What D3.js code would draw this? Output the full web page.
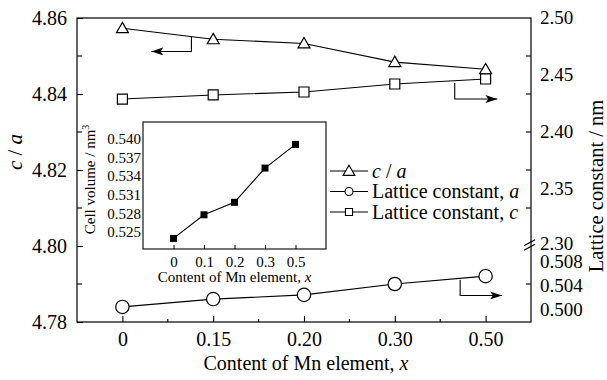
<!DOCTYPE html>
<html>
<head>
<meta charset="utf-8">
<script src="https://cdn.jsdelivr.net/npm/d3@7"></script>
<style>
  html, body { margin: 0; padding: 0; background: #fff; }
</style>
</head>
<body>
<div id="chart"></div>
<script>
// values
const xLabels = ["0", "0.15", "0.20", "0.30", "0.50"];
const ratioCA = [4.8573, 4.8544, 4.8533, 4.8484, 4.8465];
const latticeA = [0.5002, 0.5015, 0.5022, 0.5040, 0.5053];
const latticeC = [2.4289, 2.4325, 2.4351, 2.4421, 2.4465];

const insetLabels = ["0", "0.1", "0.2", "0.3", "0.5"];
const cellVolume = [0.5240, 0.5278, 0.5298, 0.5353, 0.5391];

const leftTicks = [4.78, 4.80, 4.82, 4.84, 4.86];
const leftMinor = [4.79, 4.81, 4.83, 4.85];
const upperRightTicks = [2.30, 2.35, 2.40, 2.45, 2.50];
const lowerRightTicks = [0.500, 0.504, 0.508];
const insetYTicks = [0.525, 0.528, 0.531, 0.534, 0.537, 0.540];

const FONT = '"Liberation Serif", "Times New Roman", Times, "DejaVu Serif", serif';
const W = 607, H = 380;
const plot = { left: 77, right: 531, top: 18, bottom: 322 };
const inset = { left: 143, right: 326, top: 122, bottom: 249 };

const svg = d3.select("#chart").append("svg")
  .attr("width", W).attr("height", H)
  .attr("viewBox", [0, 0, W, H])
  .attr("font-family", FONT);

// scales
const x = d3.scalePoint().domain(xLabels).range([plot.left, plot.right]).padding(0.5);
const yLeft = d3.scaleLinear().domain([4.78, 4.86]).range([plot.bottom, plot.top]);
const yUpper = d3.scaleLinear().domain([2.30, 2.50]).range([246, plot.top]);
const yLower = d3.scaleLinear().domain([0.4977, 0.5103]).range([plot.bottom, 246]);

const xi = d3.scalePoint().domain(insetLabels).range([inset.left, inset.right]).padding(1);
const yi = d3.scaleLinear().domain([0.5223, 0.5427]).range([inset.bottom, inset.top]);

// frame
svg.append("rect")
  .attr("x", plot.left).attr("y", plot.top)
  .attr("width", plot.right - plot.left).attr("height", plot.bottom - plot.top)
  .attr("fill", "none").attr("stroke", "#000").attr("stroke-width", 1.2);

// left axis, ticks pointing in
const gl = svg.append("g").attr("transform", `translate(${plot.left},0)`)
  .call(d3.axisLeft(yLeft).tickValues(leftTicks).tickFormat(d3.format(".2f")).tickSizeInner(-6).tickSizeOuter(0).tickPadding(10));
gl.select(".domain").remove();
gl.selectAll("text").style("font-size", "20px");
gl.selectAll("line").attr("stroke-width", 1.1);
svg.append("g").selectAll("line").data(leftMinor).join("line")
  .attr("x1", plot.left).attr("x2", plot.left + 5)
  .attr("y1", d => yLeft(d)).attr("y2", d => yLeft(d))
  .attr("stroke", "#000").attr("stroke-width", 1.1);

// right axis: mirrored tick marks, labels from the two lattice scales
svg.append("g").selectAll("line")
  .data([4.79, 4.81, 4.82, 4.83, 4.84, 4.85]).join("line")
  .attr("x1", plot.right).attr("x2", plot.right - 5)
  .attr("y1", d => yLeft(d)).attr("y2", d => yLeft(d))
  .attr("stroke", "#000").attr("stroke-width", 1.1);

svg.append("g").selectAll("text").data(upperRightTicks).join("text")
  .attr("x", plot.right + 9).attr("y", d => yUpper(d)).attr("dy", d => d === 2.30 ? "0.22em" : "0.34em")
  .style("font-size", "19px").text(d => d3.format(".2f")(d));
svg.append("g").selectAll("text").data(lowerRightTicks).join("text")
  .attr("x", plot.right + 9).attr("y", d => yLower(d)).attr("dy", "0.44em")
  .style("font-size", "19px").text(d => d3.format(".3f")(d));

// axis break marks
const brk = svg.append("g").attr("transform", `translate(${plot.right},245)`);
[-2.2, 2.2].forEach(o => {
  brk.append("line").attr("x1", -7).attr("y1", o + 3).attr("x2", 4).attr("y2", o - 3)
    .attr("stroke", "#000").attr("stroke-width", 1.1);
});

// bottom axis, ticks pointing up
const gb = svg.append("g").attr("transform", `translate(0,${plot.bottom})`)
  .call(d3.axisBottom(x).tickSizeInner(-6).tickSizeOuter(0).tickPadding(10));
gb.select(".domain").remove();
gb.selectAll("text").style("font-size", "20px");
gb.selectAll("line").attr("stroke-width", 1.1);
const step = x.step();
svg.append("g").selectAll("line").data(xLabels.slice(1)).join("line")
  .attr("x1", d => x(d) - step / 2).attr("x2", d => x(d) - step / 2)
  .attr("y1", plot.bottom).attr("y2", plot.bottom - 3)
  .attr("stroke", "#000").attr("stroke-width", 1.1);

// axis titles
svg.append("text")
  .attr("transform", `translate(${(plot.left + plot.right) / 2 + 2},370)`)
  .attr("text-anchor", "middle").style("font-size", "20px")
  .html('Content of Mn element, <tspan font-style="italic">x</tspan>');

svg.append("text")
  .attr("transform", "translate(22,152) rotate(-90)")
  .attr("text-anchor", "middle").style("font-size", "21px")
  .html('<tspan font-style="italic">c</tspan> / <tspan font-style="italic">a</tspan>');

svg.append("text")
  .attr("transform", "translate(603,186) rotate(-90)")
  .attr("text-anchor", "middle").style("font-size", "20.5px")
  .text("Lattice constant / nm");

// series
const lineOf = yScale => d3.line().x((d, i) => x(xLabels[i])).y(d => yScale(d));

const series = [
  { name: "ca", data: ratioCA, y: yLeft, marker: "triangle" },
  { name: "a", data: latticeA, y: yLower, marker: "circle" },
  { name: "c", data: latticeC, y: yUpper, marker: "square" }
];

const markerPath = {
  triangle: d3.symbol(d3.symbolTriangle, 62)(),
  square: d3.symbol(d3.symbolSquare, 100)(),
  circle: d3.symbol(d3.symbolCircle, 140)()
};

series.forEach(s => {
  svg.append("path").datum(s.data)
    .attr("d", lineOf(s.y))
    .attr("fill", "none").attr("stroke", "#000").attr("stroke-width", 1.1);
  svg.append("g").selectAll("path").data(s.data).join("path")
    .attr("d", markerPath[s.marker])
    .attr("transform", (d, i) => `translate(${x(xLabels[i])},${s.y(d) + (s.marker === "triangle" ? 1 : 0)})`)
    .attr("fill", "#fff").attr("stroke", "#000").attr("stroke-width", 1.2);
});

// arrows pointing to the axis each series belongs to
svg.append("defs").append("marker")
  .attr("id", "head").attr("viewBox", "0 0 12 8").attr("refX", 12).attr("refY", 4)
  .attr("markerWidth", 12).attr("markerHeight", 8).attr("markerUnits", "userSpaceOnUse")
  .attr("orient", "auto")
  .append("path").attr("d", "M0,0 L12,4 L0,8 L3,4 Z").attr("fill", "#000");

const arrowPath = (xa, y0, y1, xb) => `M${xa},${y0} V${y1} H${xb}`;
const mid = (i, f) => x(xLabels[i]) + f * step;

svg.append("path")
  .attr("d", arrowPath(mid(0, 0.76), yLeft(4.8551), yLeft(4.8512), mid(0, 0.32)))
  .attr("fill", "none").attr("stroke", "#000").attr("stroke-width", 1.1).attr("marker-end", "url(#head)");
svg.append("path")
  .attr("d", arrowPath(mid(3, 0.66), yUpper(2.4430), yUpper(2.4289), mid(4, 0.13)))
  .attr("fill", "none").attr("stroke", "#000").attr("stroke-width", 1.1).attr("marker-end", "url(#head)");
svg.append("path")
  .attr("d", arrowPath(mid(3, 0.72), yLower(0.5047), yLower(0.5021), mid(4, 0.18)))
  .attr("fill", "none").attr("stroke", "#000").attr("stroke-width", 1.1).attr("marker-end", "url(#head)");

// inset
const gi = svg.append("g");
gi.append("rect")
  .attr("x", inset.left).attr("y", inset.top)
  .attr("width", inset.right - inset.left).attr("height", inset.bottom - inset.top)
  .attr("fill", "#fff").attr("stroke", "#000").attr("stroke-width", 1.1);

gi.append("g").selectAll("text").data(insetYTicks).join("text")
  .attr("x", inset.left - 2).attr("y", d => yi(d)).attr("dy", "0.35em")
  .attr("text-anchor", "end").style("font-size", "15px")
  .text(d => d3.format(".3f")(d));

const gix = gi.append("g").attr("transform", `translate(0,${inset.bottom})`)
  .call(d3.axisBottom(xi).tickSizeInner(-4).tickSizeOuter(0).tickPadding(7));
gix.select(".domain").remove();
gix.selectAll("text").style("font-size", "15px");

gi.append("text")
  .attr("transform", `translate(${(inset.left + inset.right) / 2},282)`)
  .attr("text-anchor", "middle").style("font-size", "15px")
  .html('Content of Mn element, <tspan font-style="italic">x</tspan>');

gi.append("text")
  .attr("transform", `translate(95,${(inset.top + inset.bottom) / 2 - 6}) rotate(-90)`)
  .attr("text-anchor", "middle").style("font-size", "15px")
  .html('Cell volume / nm<tspan dy="-6" font-size="10px">3</tspan>');

gi.append("path").datum(cellVolume)
  .attr("d", d3.line().x((d, i) => xi(insetLabels[i])).y(d => yi(d)))
  .attr("fill", "none").attr("stroke", "#000").attr("stroke-width", 1.1);
gi.append("g").selectAll("rect").data(cellVolume).join("rect")
  .attr("x", (d, i) => xi(insetLabels[i]) - 3.5).attr("y", d => yi(d) - 3.5)
  .attr("width", 7).attr("height", 7).attr("fill", "#000");

// legend
const legendItems = [
  { marker: "triangle", label: '<tspan font-style="italic">c</tspan> / <tspan font-style="italic">a</tspan>' },
  { marker: "circle", label: 'Lattice constant, <tspan font-style="italic">a</tspan>' },
  { marker: "square", label: 'Lattice constant, <tspan font-style="italic">c</tspan>' }
];
const legendMarker = {
  triangle: d3.symbol(d3.symbolTriangle, 60)(),
  circle: d3.symbol(d3.symbolCircle, 50)(),
  square: d3.symbol(d3.symbolSquare, 50)()
};
const lg = svg.append("g").attr("transform", "translate(330,171)");
const row = lg.selectAll("g").data(legendItems).join("g")
  .attr("transform", (d, i) => `translate(0,${i * 20.5})`);
row.append("line").attr("x1", 0).attr("x2", 38).attr("stroke", "#000").attr("stroke-width", 1.1);
row.append("path").attr("d", d => legendMarker[d.marker])
  .attr("transform", d => `translate(19,${d.marker === "triangle" ? 1 : 0})`)
  .attr("fill", "#fff").attr("stroke", "#000").attr("stroke-width", 1.1);
row.append("text").attr("x", 42).attr("dy", "0.33em").style("font-size", "20px")
  .html(d => d.label);

// serif everywhere, axis groups included
svg.selectAll("text").style("font-family", FONT).attr("fill", "#000");
</script>
</body>
</html>
